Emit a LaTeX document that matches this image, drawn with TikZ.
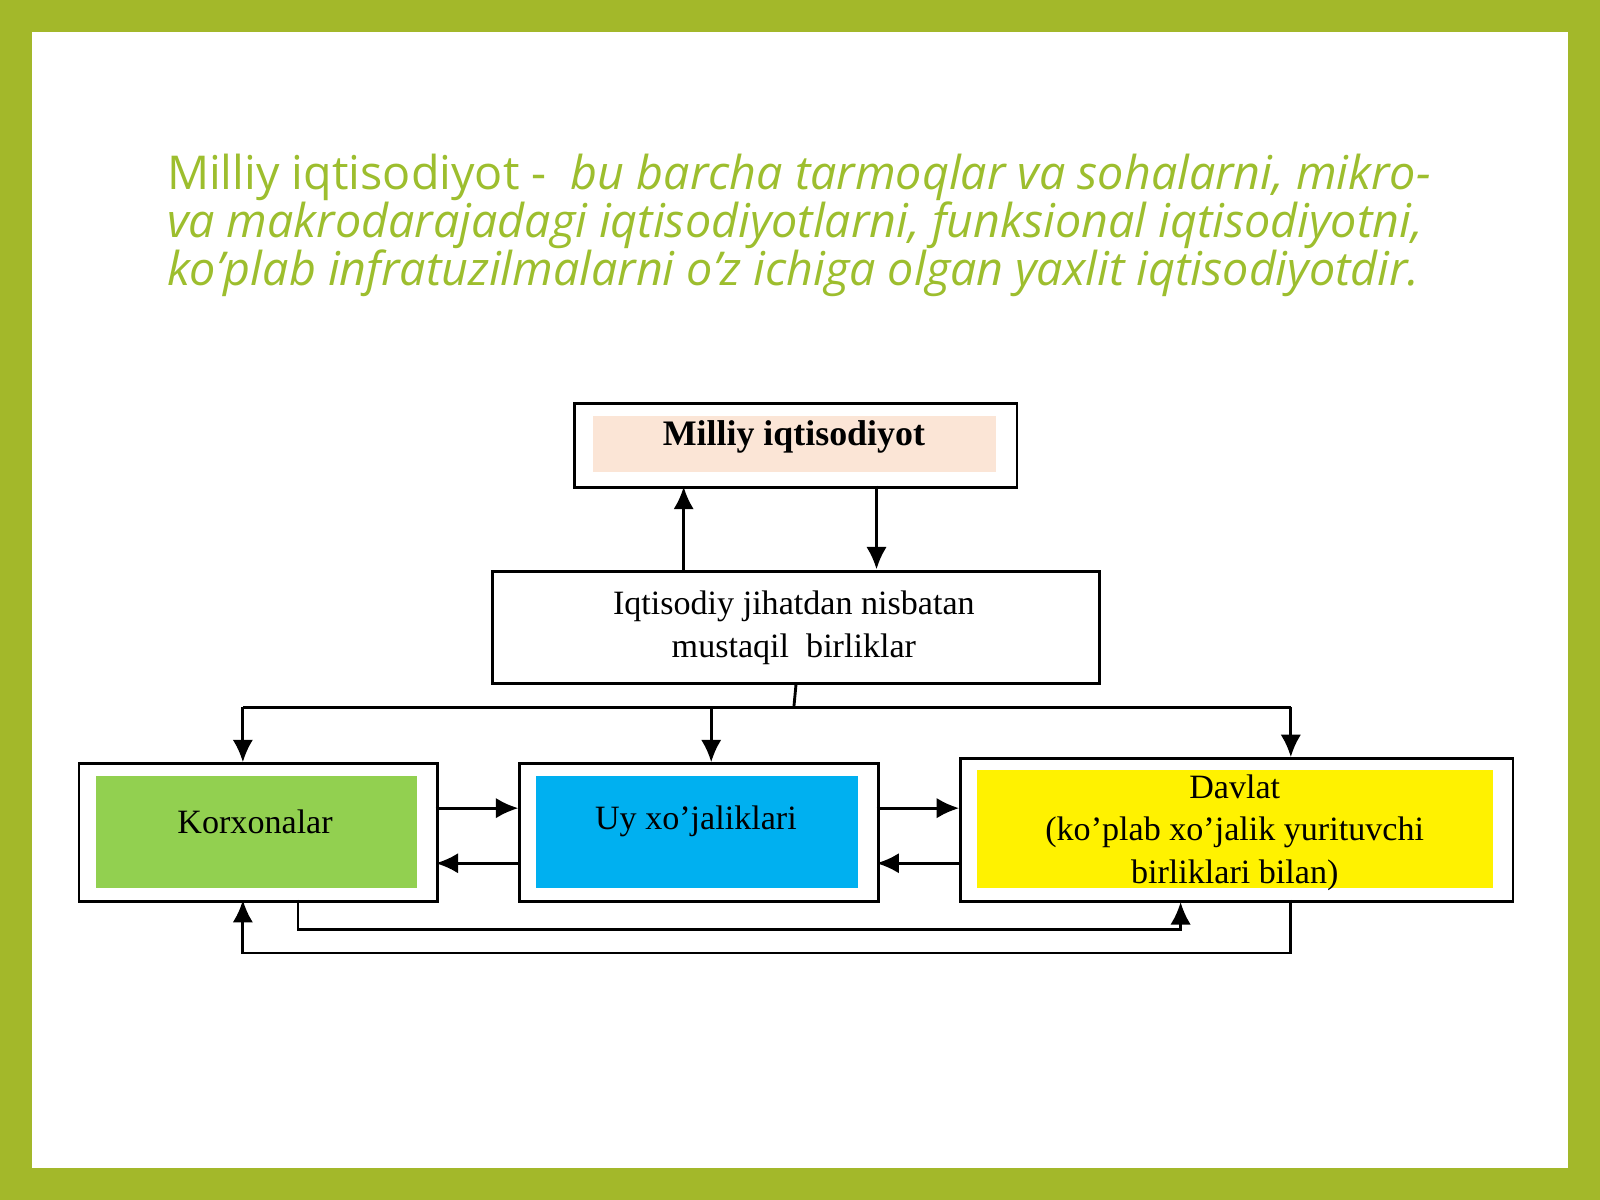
\documentclass[tikz,border=0pt]{standalone}
\usepackage{fontspec}
\setmainfont{Liberation Serif}
\newfontfamily\titlefont{Open Sans}
\usetikzlibrary{arrows.meta}
\definecolor{frameg}{HTML}{A3B82A}
\definecolor{titleg}{HTML}{9DBE2E}
\definecolor{peach}{HTML}{FBE5D6}
\definecolor{korx}{HTML}{92D050}
\definecolor{uyb}{HTML}{00B0F0}
\tikzset{
  outer/.style={draw,thick,fill=white,anchor=north west},
  inner/.style={anchor=north west,inner sep=0pt},
  link/.style={thick,-{Latex[length=2.2mm,width=2mm]}},
  wire/.style={thick}
}
\begin{document}
\begin{tikzpicture}[x=0.01cm,y=-0.01cm]
\fill[frameg] (0,0) rectangle (1568,1176);
\fill[white] (31,31) rectangle (1537,1145);
\useasboundingbox (0,0) rectangle (1568,1176);
% title
\node[anchor=north west,align=left,text=titleg,font=\titlefont\fontsize{13}{13.4}\selectfont,inner sep=0pt] (title) at (163,150)
 {Milliy iqtisodiyot -\ \ \textit{bu barcha tarmoqlar va sohalarni, mikro-}\\
  \textit{va makrodarajadagi iqtisodiyotlarni, funksional iqtisodiyotni,}\\
  \textit{ko’plab infratuzilmalarni o’z ichiga olgan yaxlit iqtisodiyotdir.}};
% boxes
\node[outer,minimum width=4.33cm,minimum height=0.82cm] (milliy) at (562,394) {};
\node[inner,fill=peach,minimum width=3.95cm,minimum height=0.55cm] (milliyin) at (580,407) {};
\node[font=\fontsize{10}{11}\selectfont\bfseries] at (778,428) {Milliy iqtisodiyot};
\node[outer,minimum width=5.95cm,minimum height=1.09cm,align=center,font=\fontsize{9.5}{12}\selectfont] (birlik) at (481,559) {};
\node[align=center,font=\fontsize{9.5}{12}\selectfont] at (778,615) {Iqtisodiy jihatdan nisbatan\\mustaqil\ \ birliklar};
\node[outer,minimum width=3.51cm,minimum height=1.35cm] (korxona) at (76,747) {};
\node[inner,fill=korx,minimum width=3.15cm,minimum height=1.09cm,font=\fontsize{9.5}{12}\selectfont] at (93,760) {};
\node[font=\fontsize{9.5}{12}\selectfont] at (250,805) {Korxonalar};
\node[outer,minimum width=3.51cm,minimum height=1.35cm] (uy) at (508,747) {};
\node[inner,fill=uyb,minimum width=3.15cm,minimum height=1.09cm] at (525,760) {};
\node[font=\fontsize{9.5}{12}\selectfont] at (682,805) {Uy xo’jaliklari};
\node[outer,minimum width=5.41cm,minimum height=1.40cm] (davlat) at (940,742) {};
\node[inner,fill=yellow,minimum width=5.05cm,minimum height=1.15cm] at (957,754) {};
\node[align=center,font=\fontsize{9.5}{11.9}\selectfont] at (1210,816) {Davlat\\(ko’plab xo’jalik yurituvchi\\birliklari bilan)};
% connectors
\coordinate (up1) at (670,559); \coordinate (up2) at (670,477);
\coordinate (dn1) at (859,476); \coordinate (dn2) at (859,558);
\draw[link] (up1) -- (up2);
\draw[link] (dn1) -- (dn2);
\draw[wire] (birlik.south) -- (778,693);
\draw[wire] (238,693) -- (1265,693);
\draw[link] (238,693) -- (238,747);
\draw[link] (697,693) -- (697,747);
\draw[link] (1265,693) -- (1265,742);
\draw[link] (427,792) -- (508,792);
\draw[link] (508,846) -- (427,846);
\draw[link] (859,792) -- (940,792);
\draw[link] (940,846) -- (859,846);
\draw[link] (292,882) -- (292,911) -- (1157,911) -- (1157,884);
\draw[link] (1265,882) -- (1265,934) -- (238,934) -- (238,882);
\end{tikzpicture}
\end{document}
